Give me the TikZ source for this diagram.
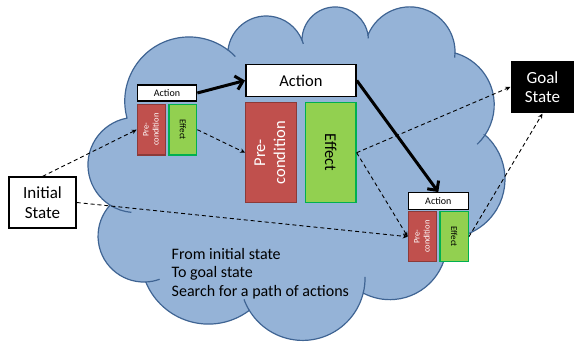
\documentclass[tikz,border=0pt]{standalone}
\usepackage{fontspec}
\setmainfont{Carlito}
\usepackage{tikz}
\usetikzlibrary{arrows.meta}

\definecolor{cloudblue}{HTML}{95B3D7}
\definecolor{cloudline}{HTML}{3F6493}
\definecolor{prered}{HTML}{C0504D}
\definecolor{preline}{HTML}{8C3A38}
\definecolor{effgreen}{HTML}{92D050}
\definecolor{effline}{HTML}{00B050}

\newcommand{\uptext}[1]{\rotatebox{90}{\begin{tabular}{@{}c@{}}#1\end{tabular}}}
\newcommand{\downtext}[1]{\rotatebox{-90}{#1}}

\tikzset{
  actbox/.style={draw=black, fill=white, line width=1.3pt, inner sep=0pt},
  prebox/.style={draw=preline, fill=prered, text=white, line width=1.2pt, inner sep=0pt},
  effbox/.style={draw=effline, fill=effgreen, text=black, line width=1.2pt, inner sep=0pt},
  statebox/.style={line width=1.2pt, inner sep=0pt, align=center, font=\fontsize{17}{19.5}\selectfont},
  link/.style={dash pattern=on 4pt off 3pt, line width=0.9pt, -{Stealth[length=5pt,width=4.5pt]}},
  flow/.style={line width=3pt, -{Straight Barb[length=7pt,width=14pt]}}
}

\begin{document}
\begin{tikzpicture}[x=1pt,y=1pt]
      \useasboundingbox (0,0) rectangle (576,342);

      % cloud
      \filldraw [fill=cloudblue, draw=cloudline, line width=1.2pt]
        (110,136.9) arc[start angle=-122.5, end angle=-259.6, radius=47.6]
        -- (127,224) arc[start angle=195.1, end angle=52.8, radius=64.3]
        -- (228,292) arc[start angle=173.3, end angle=22.1, radius=38.5]
        -- (302,302) arc[start angle=179.7, end angle=9.0, radius=33.2]
        -- (368,307) arc[start angle=157.8, end angle=-1.1, radius=45.2]
        -- (455,289) arc[start angle=74.2, end angle=-34.0, radius=53.9]
        -- (485,207) arc[start angle=48.7, end angle=-89.6, radius=58.8]
        -- (446.6,104) arc[start angle=4.7, end angle=-117.8, radius=57]
        -- (363.2,48.9) arc[start angle=-14, end angle=-148.7, radius=62.4]
        -- (249.3,31.6) arc[start angle=-52.9, end angle=-157.8, radius=67.7]
        -- (145.7,60) arc[start angle=-87.8, end angle=-222.4, radius=45.9]
        -- cycle;
      \draw [cloudline, line width=1.2pt]
        (228,292) arc[start angle=52.8, end angle=44, radius=64.3]
        (302,302) arc[start angle=22.1, end angle=16, radius=38.5]
        (368,307) arc[start angle=9, end angle=3, radius=33.2]
        (455,289) arc[start angle=-1.1, end angle=-7, radius=45.2]
        (485,207) arc[start angle=-34, end angle=-47, radius=53.9]
        (363.2,48.9) arc[start angle=-14, end angle=1, radius=62.4]
        (249.3,31.6) arc[start angle=-148.7, end angle=-160, radius=62.4]
        (145.7,60) arc[start angle=-87.8, end angle=-70, radius=45.9]
        (110,136.9) arc[start angle=-122.5, end angle=-95, radius=47.6];

      % first action
      \node [actbox, minimum width=59.4pt, minimum height=16pt, font=\fontsize{10}{11}\selectfont] (act1) at (167,249) {Action};
      \node [prebox, minimum width=28.4pt, minimum height=50.7pt, font=\fontsize{8.5}{10}\selectfont] (pre1) at (151.5,212.3) {\uptext{Pre-\\condition}};
      \node [effbox, minimum width=27.7pt, minimum height=50.7pt, font=\fontsize{9}{10}\selectfont] (eff1) at (182.9,212.3) {\downtext{Effect}};

      % middle action
      \node [actbox, line width=1.5pt, minimum width=110.3pt, minimum height=32.4pt, font=\fontsize{16.5}{19}\selectfont] (actbig) at (300.9,261.5) {Action};
      \node [prebox, minimum width=51pt, minimum height=100pt, font=\fontsize{16.5}{20}\selectfont] (prebig) at (271.2,189.3) {\uptext{Pre-\\condition}};
      \node [effbox, minimum width=50.7pt, minimum height=100pt, font=\fontsize{16.5}{20}\selectfont] (effbig) at (330.7,189.3) {\downtext{Effect}};

      % last action
      \node [actbox, minimum width=60pt, minimum height=16.6pt, font=\fontsize{10}{11}\selectfont] (act3) at (438.3,141) {Action};
      \node [prebox, minimum width=28.4pt, minimum height=50pt, font=\fontsize{8.5}{10}\selectfont] (pre3) at (422.5,105.3) {\uptext{Pre-\\condition}};
      \node [effbox, minimum width=28.3pt, minimum height=50pt, font=\fontsize{9}{10}\selectfont] (eff3) at (454.2,105.3) {\downtext{Effect}};

      % states
      \node [statebox, draw=black, fill=white, minimum width=67pt, minimum height=51pt] (init) at (42.5,139.5) {Initial\\State};
      \node [statebox, fill=black, text=white, minimum width=63pt, minimum height=52pt] (goal) at (542.5,255) {Goal\\State};

      \node [anchor=north west, align=left, inner sep=0pt, font=\fontsize{16}{18.5}\selectfont] (note) at (171.5,94)
        {From initial state\\To goal state\\Search for a path of actions};

      % links
      \draw [flow] (act1.east) -- (actbig.west);
      \draw [flow] (actbig.east) -- (act3.north);
      \draw [link] (init.north) -- (pre1.west);
      \draw [link] (init.east) -- (pre3.west);
      \draw [link] (eff1.east) -- (prebig.west);
      \draw [link] (effbig.east) -- (goal.west);
      \draw [link] (effbig.east) -- (pre3.west);
      \draw [link] (eff3.east) -- (goal.south);
    \end{tikzpicture}
\end{document}
